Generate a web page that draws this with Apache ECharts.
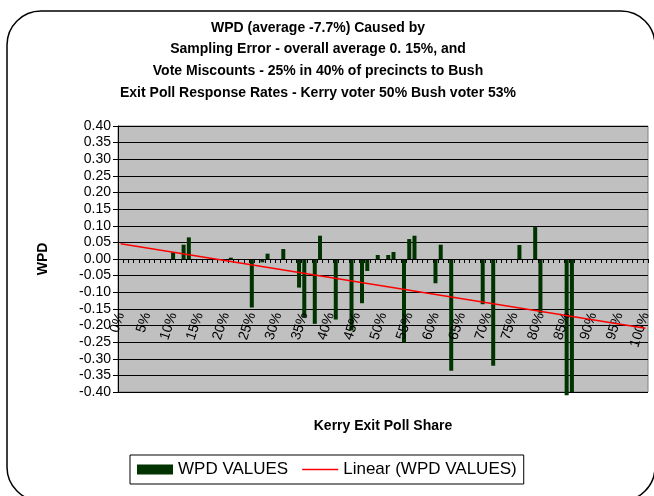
<!DOCTYPE html>
<html>
<head>
<meta charset="utf-8">
<script src="https://cdn.jsdelivr.net/npm/echarts@6/dist/echarts.min.js"></script>
<style>
  html, body { margin: 0; padding: 0; background: #fff; }
  #chart { width: 654px; height: 496px; }
</style>
</head>
<body>
<div id="chart"></div>
<script>
  // precincts that have a bar: kerry exit poll share (in %) and the WPD value
  var precinctShare = [10, 12, 13, 21, 25, 27, 28, 31, 34, 35, 37, 38, 41, 44, 46, 47,
                       49, 51, 52, 54, 55, 56, 60, 61, 63, 69, 71, 76, 79, 80, 85, 86];
  var wpdValues = [0.020, 0.043, 0.065, 0.004, -0.146, -0.010, 0.016, 0.030, -0.086, -0.175,
                   -0.195, 0.070, -0.182, -0.215, -0.133, -0.036, 0.012, 0.012, 0.021, -0.251,
                   0.060, 0.070, -0.073, 0.043, -0.336, -0.136, -0.321, 0.042, 0.096, -0.163,
                   -0.410, -0.400];
  // linear trend line, read at both ends of the axis
  var trendShare = ['0%', '100%'];
  var trendValues = [0.046, -0.208];

  var titleLines = [
    'WPD (average -7.7%) Caused by',
    'Sampling Error - overall average 0. 15%, and',
    'Vote Miscounts - 25% in 40% of precincts to Bush',
    'Exit Poll Response Rates - Kerry voter 50% Bush voter 53%'
  ];

  // category axis 0% .. 100%, one slot per percent
  var categories = [];
  for (var i = 0; i <= 100; i++) categories.push(i + '%');

  var barData = categories.map(function () { return null; });
  precinctShare.forEach(function (p, k) { barData[p] = wpdValues[k]; });

  var trendData = trendShare.map(function (c, k) { return [c, trendValues[k]]; });

  var font = 'Liberation Sans, Arial, sans-serif';

  var mychart = echarts.init(document.getElementById('chart'));
  mychart.setOption({
    animation: false,
    backgroundColor: '#fff',
    textStyle: { fontFamily: font },
    graphic: [{
      type: 'rect',
      shape: { x: 7, y: 11, width: 648, height: 490, r: 34 },
      style: { fill: 'none', stroke: '#000', lineWidth: 1.5 },
      silent: true
    }],
    title: {
      text: titleLines.join('\n'),
      left: 318,
      top: 17,
      padding: 0,
      textAlign: 'center',
      textStyle: { fontFamily: font, fontSize: 14, fontWeight: 'bold', color: '#000', lineHeight: 21.7 }
    },
    legend: {
      data: [
        { name: 'WPD VALUES', icon: 'rect' },
        { name: 'Linear (WPD VALUES)', icon: 'path://M0 0H36V1.6H0Z' }
      ],
      left: 130,
      top: 455,
      padding: [6, 7],
      itemGap: 14,
      itemWidth: 36,
      itemHeight: 10,
      borderColor: '#000',
      borderWidth: 1,
      textStyle: { fontFamily: font, fontSize: 17, color: '#000' }
    },
    grid: {
      left: 118,
      right: 6,
      top: 126,
      bottom: 104,
      outerBoundsMode: 'none',
      containLabel: false,
      show: true,
      backgroundColor: '#c0c0c0',
      borderColor: '#808080',
      borderWidth: 1
    },
    xAxis: {
      type: 'category',
      data: categories,
      z: 3,
      name: 'Kerry Exit Poll Share',
      nameLocation: 'middle',
      nameGap: 27,
      nameTextStyle: { fontFamily: font, fontSize: 14, fontWeight: 'bold', color: '#000' },
      axisLine: { onZero: true, lineStyle: { color: '#000', width: 1 } },
      axisTick: { show: true, interval: 0, length: 4, lineStyle: { color: '#000' } },
      axisLabel: {
        interval: 4,
        rotate: 72,
        margin: -79,
        fontFamily: font,
        fontSize: 14,
        color: '#000'
      },
      splitLine: { show: false }
    },
    yAxis: {
      type: 'value',
      min: -0.4,
      max: 0.4,
      interval: 0.05,
      name: 'WPD',
      nameLocation: 'middle',
      nameGap: 68,
      nameTextStyle: { fontFamily: font, fontSize: 14, fontWeight: 'bold', color: '#000' },
      axisLine: { show: true, lineStyle: { color: '#000', width: 1 } },
      axisTick: { show: true, length: 5, lineStyle: { color: '#000' } },
      axisLabel: {
        margin: 7,
        showMinLabel: true,
        showMaxLabel: true,
        fontFamily: font,
        fontSize: 14,
        color: '#000',
        formatter: function (v) { return v.toFixed(2); }
      },
      splitLine: { show: true, lineStyle: { color: '#000', width: 1 } }
    },
    series: [
      {
        name: 'WPD VALUES',
        type: 'bar',
        data: barData,
        barWidth: 4,
        clip: false,
        itemStyle: { color: '#003300' }
      },
      {
        name: 'Linear (WPD VALUES)',
        type: 'line',
        data: trendData,
        symbol: 'none',
        lineStyle: { color: '#ff0000', width: 1.5 },
        itemStyle: { color: '#ff0000' },
        z: 3
      }
    ]
  });
</script>
</body>
</html>
